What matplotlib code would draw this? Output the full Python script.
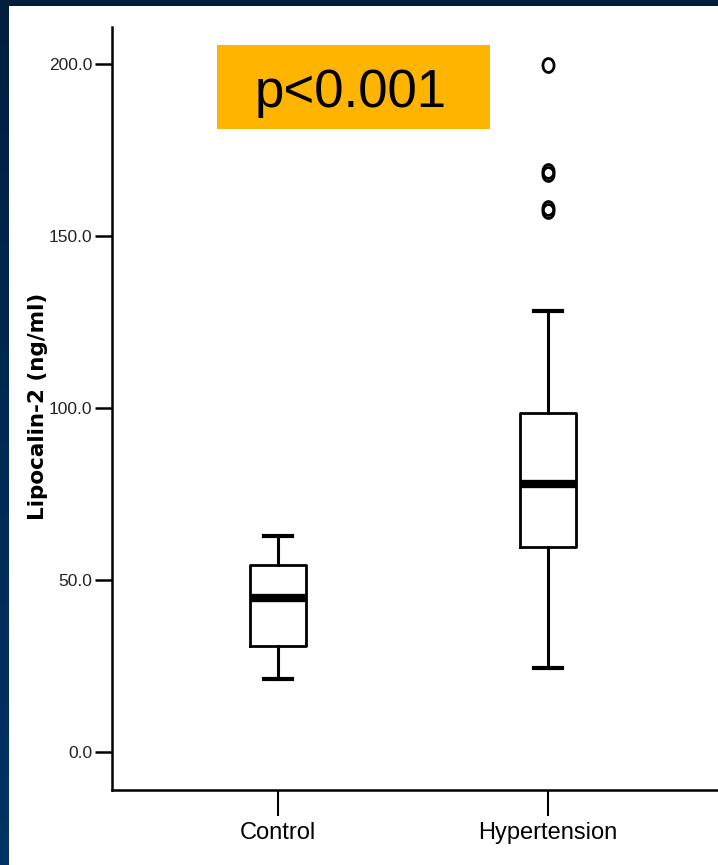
"""
Box plot of Lipocalin-2 levels, control vs hypertension (SPSS-style).
"""
import numpy as np
import matplotlib
matplotlib.use("Agg")
import matplotlib.pyplot as plt
from matplotlib.patches import Rectangle
from matplotlib.path import Path

# data (ng/ml)
groups = ["Control", "Hypertension"]
whisker_low = [21.2, 24.4]
q1 = [30.8, 59.6]
median = [44.8, 77.9]
q3 = [54.4, 98.5]
whisker_high = [62.8, 128.2]
outliers = [[], [157.2, 158.3, 168.2, 168.8, 199.7]]

yticks = [0, 50, 100, 150, 200]

W, H = 718, 865
fig = plt.figure(figsize=(W / 100, H / 100), dpi=100, facecolor="white")

# dark frame on the left and top
grad = fig.add_axes([0, 0, 9 / W, 1])
grad.imshow(np.linspace(0, 1, 256).reshape(-1, 1), aspect="auto",
            cmap=matplotlib.colors.LinearSegmentedColormap.from_list(
                "frame", ["#001f3f", "#003366"]), extent=[0, 1, 1, 0])
grad.axis("off")
fig.patches.append(Rectangle((0, 1 - 6 / H), 1, 6 / H, transform=fig.transFigure,
                             facecolor="#001f3f", edgecolor="none"))

ax = fig.add_axes([112 / W, 1 - 790 / H, (W - 112) / W, (790 - 27) / H])

stats = []
for i, name in enumerate(groups):
    stats.append(dict(label=name, whislo=whisker_low[i], q1=q1[i], med=median[i],
                      q3=q3[i], whishi=whisker_high[i], fliers=outliers[i]))

# slightly tall open ellipse, like the SPSS outlier marker
t = np.linspace(0, 2 * np.pi, 60)
ellipse = Path(np.column_stack([0.8 * np.cos(t), np.sin(t)]), closed=True)

ax.bxp(stats, positions=[1, 2], widths=0.205, patch_artist=False,
       boxprops=dict(color="black", linewidth=2),
       whiskerprops=dict(color="black", linewidth=2.2),
       capprops=dict(color="black", linewidth=3),
       medianprops=dict(color="black", linewidth=6, solid_capstyle="butt"),
       flierprops=dict(marker=ellipse, markersize=10, markerfacecolor="none",
                       markeredgecolor="black", markeredgewidth=2),
       capwidths=0.104)

ax.set_xlim(0.385, 2.63)
ax.set_ylim(-11.05, 210.8)
ax.set_yticks(yticks)
ax.set_yticklabels([f"{v:.1f}" for v in yticks])

for s in ["top", "right"]:
    ax.spines[s].set_visible(False)
for s in ["left", "bottom"]:
    ax.spines[s].set_linewidth(1.8)

narrow = ["Liberation Sans Narrow", "Liberation Sans", "DejaVu Sans"]
ax.tick_params(axis="y", length=12, width=1.8, pad=2, labelsize=12.5,
               labelcolor="#222222")
ax.tick_params(axis="x", length=19, width=1.5, pad=4, labelsize=17)
for lab in ax.get_yticklabels():
    lab.set_family(narrow)
for lab in ax.get_xticklabels():
    lab.set_family(narrow)

fig.text(38 / W, 1 - 406 / H, "Lipocalin-2 (ng/ml)", rotation=90,
         ha="center", va="center", fontsize=15.5, fontweight="bold",
         family="DejaVu Sans")

# p-value badge
fig.patches.append(Rectangle((217 / W, 1 - 129 / H), 273 / W, 84 / H,
                             transform=fig.transFigure, facecolor="#FFB400",
                             edgecolor="none"))
fig.text(351 / W, 1 - 107 / H, "p<0.001", ha="center", va="baseline",
         fontsize=38, family=["Liberation Sans", "DejaVu Sans"], color="black")

fig.savefig("out.png", dpi=100, facecolor="white")
